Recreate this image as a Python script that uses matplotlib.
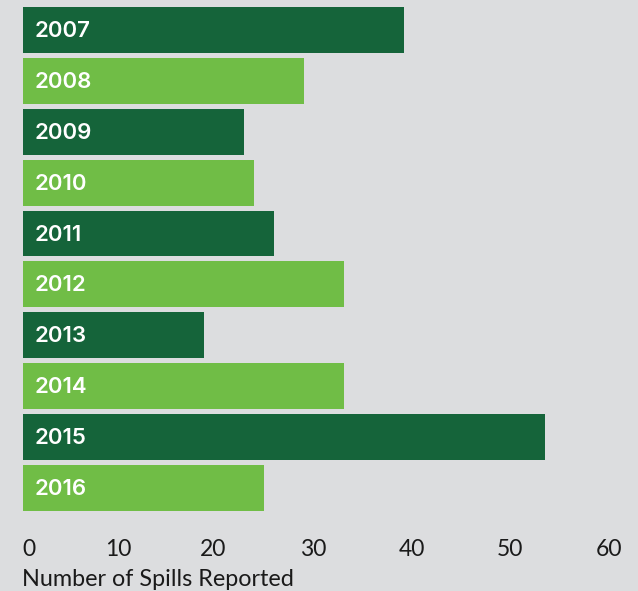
import matplotlib
matplotlib.use("Agg")
import matplotlib.pyplot as plt

years = ['2007', '2008', '2009', '2010', '2011', '2012', '2013', '2014', '2015', '2016']
spills = [38, 28, 22, 23, 25, 32, 18, 32, 52, 24]
tick_labels = ['0', '10', '20', '30', '40', '50', '60']

DARK = '#15643a'
LIGHT = '#70bd46'
BG = '#dcdddf'

W, H = 638, 591
fig = plt.figure(figsize=(W / 100, H / 100), dpi=100, facecolor=BG)

# axes: value 0 sits at x=23px, about 10 px per spill
left_px, bottom_px = 23, 520
ax = fig.add_axes([left_px / W, 1 - bottom_px / H, 1 - left_px / W, bottom_px / H])
ax.set_facecolor(BG)

pitch = 50.875
first_center = 30
ax.set_xlim(0, (W - left_px) / 10.03)
ax.set_ylim((bottom_px - first_center) / pitch, -first_center / pitch)

pos = list(range(len(years)))
colors = [DARK if i % 2 == 0 else LIGHT for i in pos]
ax.barh(pos, spills, height=0.904, color=colors, linewidth=0)

for i, y in enumerate(years):
    ax.text(1.2, i + 0.02, y, color='white', fontsize=16, fontweight='semibold',
            family='Inter', va='center', ha='left')

# tick labels sit a little off the true scale in the original
tick_pos = [0.6, 9.5, 18.9, 28.9, 38.8, 48.6, 58.4]
ax.set_xticks(tick_pos, tick_labels)
ax.tick_params(axis='x', length=0, pad=14, labelsize=16.5, labelcolor='#1a1a1a')
for lab in ax.get_xticklabels():
    lab.set_family('Lato')
ax.set_yticks([])
for s in ax.spines.values():
    s.set_visible(False)

fig.text(22 / W, 1 - 579 / H, 'Number of Spills Reported', fontsize=16.8,
         family='Lato', color='#1a1a1a', ha='left', va='center')

fig.savefig('out.png', dpi=100, facecolor=BG)
